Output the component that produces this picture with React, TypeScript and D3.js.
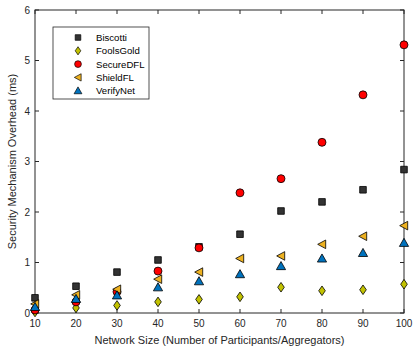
import React from "react";
import * as d3 from "d3";

const sizes = [10, 20, 30, 40, 50, 60, 70, 80, 90, 100];
const biscotti = [0.3, 0.53, 0.81, 1.05, 1.31, 1.56, 2.02, 2.2, 2.44, 2.84];
const foolsGold = [0.02, 0.1, 0.15, 0.22, 0.27, 0.32, 0.51, 0.44, 0.46, 0.57];
const secureDFL = [0.06, 0.22, 0.42, 0.83, 1.29, 2.38, 2.66, 3.38, 4.32, 5.31];
const shieldFL = [0.18, 0.36, 0.47, 0.67, 0.81, 1.08, 1.13, 1.36, 1.52, 1.73];
const verifyNet = [0.12, 0.28, 0.35, 0.51, 0.63, 0.77, 0.93, 1.08, 1.19, 1.39];
const yTicks = [0, 1, 2, 3, 4, 5, 6];

const series = [
  { name: "Biscotti", values: biscotti, shape: "square", color: "#333333" },
  { name: "FoolsGold", values: foolsGold, shape: "diamond", color: "#c2c200" },
  { name: "SecureDFL", values: secureDFL, shape: "circle", color: "#ff0000" },
  { name: "ShieldFL", values: shieldFL, shape: "left", color: "#edb120" },
  { name: "VerifyNet", values: verifyNet, shape: "triangle", color: "#0072bd" },
];

const margins = { left: 35, top: 10, right: 10, bottom: 37 };
const W = 414;
const H = 350;
const width = W - margins.left - margins.right;
const height = H - margins.top - margins.bottom;

// marker paths centred at 0,0
const marker = (shape: string) => {
  switch (shape) {
    case "square":
      return "M-3.3,-3.3H3.3V3.3H-3.3Z";
    case "diamond":
      return "M0,-4.8L3.3,0L0,4.8L-3.3,0Z";
    case "circle":
      return d3.symbol(d3.symbolCircle, 50)() as string;
    case "left":
      return "M-4.3,0L3.7,-4.3L3.7,4.3Z";
    default:
      return "M0,-4.5L4.6,3.6H-4.6Z";
  }
};

const App = () => {
  const x = d3.scaleLinear().domain([10, 100]).range([0, width]);
  const y = d3.scaleLinear().domain([0, 6]).range([height, 0]);
  const font = "Liberation Sans, Arial, Helvetica, sans-serif";

  return (
    <svg
      width={W}
      height={H}
      style={{ position: "absolute", left: 0, top: 0 }}
      fontFamily={font}
    >
      <rect width={W} height={H} fill="#fff" />
      <g transform={`translate(${margins.left},${margins.top})`}>
        {/* ticks: inward on all sides */}
        {sizes.map(t => (
          <g key={"x" + t}>
            <line x1={x(t)} x2={x(t)} y1={height} y2={height - 4} stroke="#262626" />
            <line x1={x(t)} x2={x(t)} y1={0} y2={4} stroke="#262626" />
            <text
              x={x(t)}
              y={height + 14}
              textAnchor="middle"
              fontSize={10}
              fill="#262626"
            >
              {t}
            </text>
          </g>
        ))}
        {yTicks.map(t => (
          <g key={"y" + t}>
            <line x1={0} x2={4} y1={y(t)} y2={y(t)} stroke="#262626" />
            <line x1={width} x2={width - 4} y1={y(t)} y2={y(t)} stroke="#262626" />
            <text
              x={-5}
              y={y(t) + 3.5}
              textAnchor="end"
              fontSize={10}
              fill="#262626"
            >
              {t}
            </text>
          </g>
        ))}
        <rect width={width} height={height} fill="none" stroke="#262626" strokeWidth={1} />

        {series.map(s => (
          <g key={s.name}>
            {s.values.map((v, i) => (
              <path
                key={i}
                d={marker(s.shape)}
                transform={`translate(${x(sizes[i])},${y(v)})`}
                fill={s.color}
                stroke="#000"
                strokeWidth={0.8}
              />
            ))}
          </g>
        ))}

        {/* legend */}
        <g transform="translate(18,17)">
          <rect width={96} height={72} fill="#fff" stroke="#262626" strokeWidth={0.8} />
          {series.map((s, i) => (
            <g key={s.name} transform={`translate(0,${10.5 + i * 13.3})`}>
              <path
                d={marker(s.shape)}
                transform="translate(25,0) scale(0.85)"
                fill={s.color}
                stroke="#000"
                strokeWidth={0.8}
              />
              <text x={43} y={3.5} fontSize={9.6} fill="#000">
                {s.name}
              </text>
            </g>
          ))}
        </g>
      </g>
      <text
        x={margins.left + width / 2}
        y={H - 6}
        textAnchor="middle"
        fontSize={11}
        fill="#262626"
      >
        Network Size (Number of Participants/Aggregators)
      </text>
      <text
        transform={`translate(16,${margins.top + height / 2}) rotate(-90)`}
        textAnchor="middle"
        fontSize={11}
        fill="#262626"
      >
        Security Mechanism Overhead (ms)
      </text>
    </svg>
  );
};

export default App;
